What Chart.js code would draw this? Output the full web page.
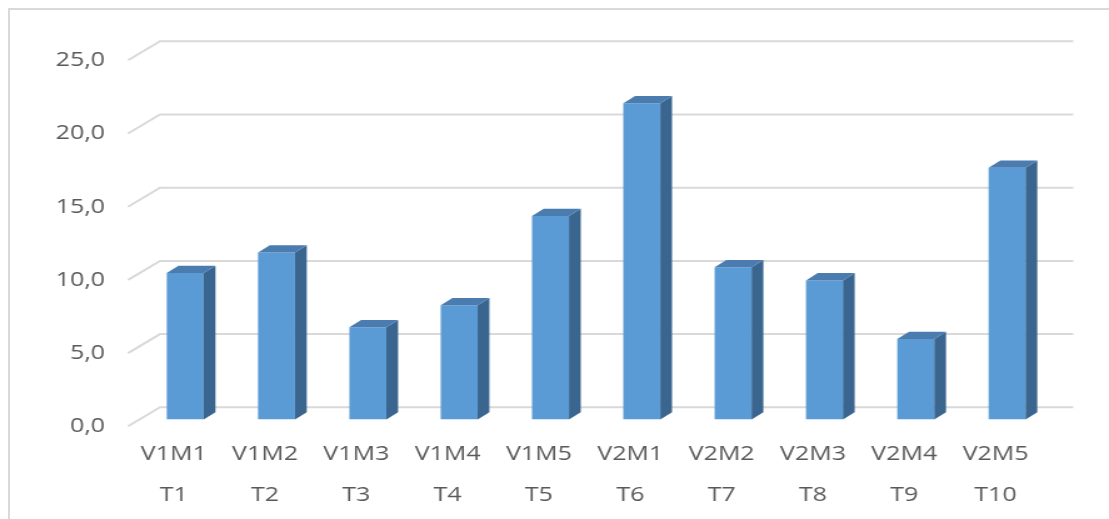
<!DOCTYPE html>
<html>
<head>
<meta charset="utf-8">
<script src="https://cdn.jsdelivr.net/npm/chart.js@4/dist/chart.umd.min.js"></script>
<style>
  html, body { margin: 0; padding: 0; background: #ffffff; overflow: hidden; width: 1109px; height: 519px; }
  #frame { position: absolute; left: 8px; top: 8px; width: 2000px; height: 2000px; border: 2px solid #d9d9d9; box-sizing: border-box; }
  #c { position: absolute; left: 0; top: 0; }
</style>
</head>
<body>
<div id="frame"></div>
<canvas id="c" width="887" height="519" style="width:1109px;height:519px"></canvas>
<script>
// Treatment codes (first label line) and treatment numbers (second line)
const codes = ['V1M1', 'V1M2', 'V1M3', 'V1M4', 'V1M5', 'V2M1', 'V2M2', 'V2M3', 'V2M4', 'V2M5'];
const treatments = ['T1', 'T2', 'T3', 'T4', 'T5', 'T6', 'T7', 'T8', 'T9', 'T10'];
const values = [10.0, 11.4, 6.3, 7.8, 13.9, 21.6, 10.4, 9.5, 5.5, 17.2];
const yTicks = [0, 5, 10, 15, 20, 25];

const labels = codes.map((c, i) => [c, treatments[i]]);

// Oblique 3D projection offsets (canvas px)
const BAR_DX = 9.4, BAR_DY = -7.3;     // depth of each bar
const FLOOR_DX = -9.2, FLOOR_DY = 6.8; // front edge of floor relative to bar fronts
const WALL_DX = 16.4, WALL_DY = -12.2; // back wall relative to bar fronts

const FRONT = '#5b9bd5', TOP = '#4a7cb0', SIDE = '#3a658f', GRID = '#d9d9d9';

const depthPlugin = {
  id: 'depth3d',
  beforeDatasetsDraw(chart) {
    const { ctx, chartArea } = chart;
    const y = chart.scales.y;
    ctx.save();
    ctx.strokeStyle = GRID;
    ctx.lineWidth = 2;
    y.ticks.forEach(t => {
      const py = y.getPixelForValue(t.value);
      ctx.beginPath();
      ctx.moveTo(chartArea.left + FLOOR_DX, py + FLOOR_DY);
      ctx.lineTo(chartArea.left + WALL_DX, py + WALL_DY);
      ctx.lineTo(chartArea.right + WALL_DX, py + WALL_DY);
      ctx.stroke();
    });
    ctx.restore();
  },
  afterDatasetsDraw(chart) {
    const { ctx } = chart;
    const meta = chart.getDatasetMeta(0);
    ctx.save();
    meta.data.forEach(bar => {
      const { x, y, base, width } = bar.getProps(['x', 'y', 'base', 'width'], true);
      const l = x - width / 2, r = x + width / 2;
      // side face
      ctx.fillStyle = SIDE;
      ctx.beginPath();
      ctx.moveTo(r, y);
      ctx.lineTo(r + BAR_DX, y + BAR_DY);
      ctx.lineTo(r + BAR_DX, base + BAR_DY);
      ctx.lineTo(r, base);
      ctx.closePath();
      ctx.fill();
      // top face
      ctx.fillStyle = TOP;
      ctx.beginPath();
      ctx.moveTo(l, y);
      ctx.lineTo(l + BAR_DX, y + BAR_DY);
      ctx.lineTo(r + BAR_DX, y + BAR_DY);
      ctx.lineTo(r, y);
      ctx.closePath();
      ctx.fill();
    });
    ctx.restore();
  }
};

new Chart(document.getElementById('c'), {
  type: 'bar',
  data: {
    labels: labels,
    datasets: [{
      data: values,
      backgroundColor: FRONT,
      borderWidth: 0,
      barPercentage: 0.405,
      categoryPercentage: 1.0
    }]
  },
  options: {
    responsive: false,
    devicePixelRatio: 1,
    animation: false,
    layout: { padding: { top: 53.5, right: 45, left: 0, bottom: 0 } },
    plugins: { legend: { display: false }, tooltip: { enabled: false } },
    scales: {
      x: {
        grid: { display: false, drawTicks: false },
        border: { display: false },
        afterFit(scale) { scale.height = 519 - 419.5; },
        ticks: {
          padding: 14,
          labelOffset: FLOOR_DX,
          color: '#595959',
          maxRotation: 0,
          autoSkip: false,
          font: { family: 'Open Sans', size: 20, lineHeight: 2.05 }
        }
      },
      y: {
        min: 0,
        max: 25,
        afterFit(scale) { scale.width = 111.6; },
        afterBuildTicks(scale) { scale.ticks = yTicks.map(v => ({ value: v })); },
        grid: { display: false, drawTicks: false },
        border: { display: false },
        ticks: {
          padding: 27.6,
          labelOffset: 7,
          color: '#595959',
          font: { family: 'Open Sans', size: 20 },
          callback: v => v.toFixed(1).replace('.', ',')
        }
      }
    }
  },
  plugins: [depthPlugin]
});
</script>
</body>
</html>
